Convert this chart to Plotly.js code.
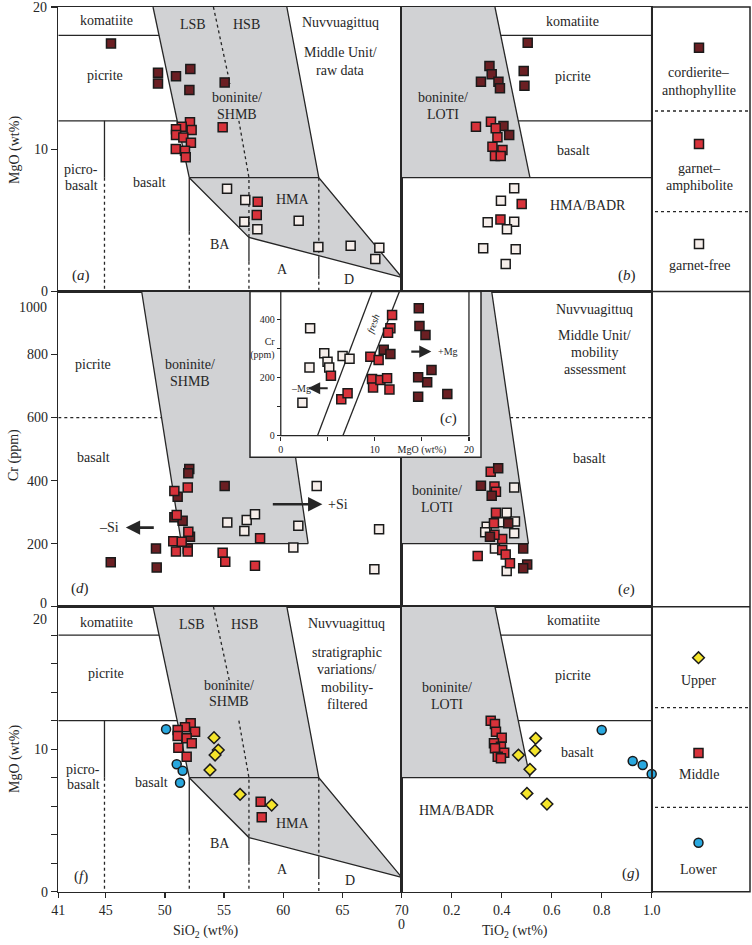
<!DOCTYPE html>
<html><head><meta charset="utf-8">
<script src="https://cdn.plot.ly/plotly-3.0.1.min.js"></script>
<style>html,body{margin:0;padding:0;background:#fff}#chart{width:752px;height:945px}</style>
</head><body><div id="chart"></div>
<script>
// ---------------- DATA ----------------
// Panel (a): SiO2 vs MgO, Middle Unit raw data
const aDarkSiO2  = [45.45, 49.42, 49.42, 50.94, 52.15, 52.07, 55.05];
const aDarkMgO   = [17.44, 15.38, 14.63, 15.14, 15.64, 14.16, 14.70];
const aRedSiO2   = [54.88, 52.12, 51.42, 50.94, 52.26, 50.94, 51.56, 52.20, 50.92, 51.70, 51.76, 57.84, 57.76];
const aRedMgO    = [11.54, 11.89, 11.58, 11.40, 11.35, 11.00, 10.83, 10.46, 10.01, 9.90, 9.43, 6.31, 5.38];
const aLightSiO2 = [55.25, 56.79, 56.71, 57.81, 61.30, 62.96, 65.69, 68.11, 67.77];
const aLightMgO  = [7.22, 6.43, 4.91, 4.37, 4.98, 3.13, 3.22, 3.08, 2.28];
// Panel (b): TiO2 vs MgO
const bDarkTiO2  = [0.504, 0.488, 0.491, 0.351, 0.360, 0.317, 0.387, 0.393, 0.407, 0.430];
const bDarkMgO   = [17.49, 15.50, 14.46, 15.85, 15.28, 14.74, 14.74, 14.28, 11.63, 11.00];
const bRedTiO2   = [0.297, 0.357, 0.376, 0.383, 0.363, 0.403, 0.373, 0.396, 0.480, 0.395];
const bRedMgO    = [11.58, 11.93, 11.47, 10.84, 10.18, 9.94, 9.52, 9.52, 6.15, 5.07];
const bLightTiO2 = [0.450, 0.397, 0.344, 0.450, 0.421, 0.326, 0.456, 0.416];
const bLightMgO  = [7.25, 6.38, 4.86, 4.90, 4.37, 3.04, 2.97, 1.93];
// Panel (c) inset: MgO vs Cr
const cLightMgO  = [3.12, 3.05, 2.30, 4.62, 4.97, 5.15, 6.57, 7.31];
const cLightCr   = [369, 234, 113, 283, 254, 234, 274, 264];
const cRedMgO    = [5.33, 6.43, 7.10, 9.52, 10.40, 11.83, 11.65, 11.40, 9.70, 9.81, 10.59, 11.30, 11.55];
const cRedCr     = [206, 125, 146, 271, 260, 415, 369, 354, 195, 166, 191, 197, 159];
const cDarkMgO   = [10.94, 11.65, 14.67, 14.74, 15.38, 16.02, 15.56, 14.60, 14.60, 17.70];
const cDarkCr    = [295, 281, 438, 377, 346, 226, 184, 201, 134, 143];
// Panel (d): SiO2 vs Cr
const dDarkSiO2  = [45.43, 49.25, 49.31, 52.06, 51.98, 51.08, 50.80, 51.50, 52.12, 51.93, 55.05];
const dDarkCr    = [141, 185, 124, 437, 423, 349, 284, 273, 222, 185, 383];
const dRedSiO2   = [50.80, 51.93, 51.00, 50.71, 51.42, 51.98, 50.94, 51.93, 54.88, 55.10, 58.04, 57.61];
const dRedCr     = [367, 378, 291, 208, 206, 238, 175, 175, 171, 143, 217, 130];
const dLightSiO2 = [55.27, 56.71, 56.91, 57.61, 61.27, 60.85, 62.82, 68.09, 67.69];
const dLightCr   = [267, 240, 275, 293, 257, 188, 383, 246, 119];
// Panel (e): TiO2 vs Cr
const eDarkTiO2  = [0.386, 0.317, 0.360, 0.426, 0.353, 0.486, 0.502, 0.486];
const eDarkCr    = [439, 384, 352, 265, 222, 185, 134, 122];
const eRedTiO2   = [0.356, 0.371, 0.377, 0.377, 0.369, 0.402, 0.371, 0.402, 0.416, 0.433, 0.304];
const eRedCr     = [428, 381, 365, 298, 265, 215, 228, 180, 166, 138, 161];
const eLightTiO2 = [0.450, 0.420, 0.453, 0.393, 0.340, 0.334, 0.450, 0.373, 0.420];
const eLightCr   = [378, 298, 270, 268, 254, 236, 233, 185, 113];
// Panel (f): SiO2 vs MgO, stratigraphic units
const fUpperSiO2  = [54.15, 54.51, 54.24, 53.81, 56.35, 59.02];
const fUpperMgO   = [10.81, 9.94, 9.59, 8.54, 6.83, 6.08];
const fMiddleSiO2 = [52.18, 51.70, 52.55, 51.08, 51.08, 51.84, 52.27, 51.14, 51.84, 58.09, 58.18];
const fMiddleMgO  = [11.82, 11.54, 11.23, 11.35, 10.93, 10.76, 10.41, 10.11, 9.47, 6.32, 5.22];
const fLowerSiO2  = [50.10, 51.00, 51.50, 51.28];
const fLowerMgO   = [11.40, 8.94, 8.49, 7.65];
// Panel (g): TiO2 vs MgO, stratigraphic units
const gUpperTiO2  = [0.536, 0.533, 0.467, 0.513, 0.501, 0.581];
const gUpperMgO   = [10.76, 9.90, 9.59, 8.59, 6.90, 6.15];
const gMiddleTiO2 = [0.356, 0.373, 0.377, 0.400, 0.369, 0.397, 0.373, 0.410, 0.384, 0.397];
const gMiddleMgO  = [12.00, 11.77, 11.23, 10.81, 10.41, 10.18, 10.06, 9.75, 9.47, 9.36];
const gLowerTiO2  = [0.800, 0.924, 0.964, 1.000];
const gLowerMgO   = [11.35, 9.17, 8.89, 8.26];

// Classification field boundaries
const sioGraySiO2 = [49.0, 60.3, 63.0, 70.0, 57.1, 52.06, 49.0];
const sioGrayMgO  = [20, 20, 8, 1, 3.8, 8, 20];
const sioSolid = [
  [[41, 49.51], [18, 18]], [[41, 51.04], [12, 12]], [[49.0, 52.06], [20, 8]],
  [[60.3, 63.0, 70.0], [20, 8, 1]], [[52.06, 63.0], [8, 8]], [[52.06, 57.1, 70.0], [8, 3.8, 1]],
  [[44.9, 44.9], [12, 8]], [[52.06, 52.06], [8, 4.2]], [[57.1, 57.1], [3.8, 2.1]], [[63.0, 63.0], [2.45, 1.1]]
];
const sioDotted = [
  [[44.9, 44.9], [8, 0]], [[52.06, 52.06], [4.2, 0]], [[57.1, 57.1], [2.1, 0]],
  [[63.0, 63.0], [8, 2.45]], [[63.0, 63.0], [1.1, 0]],
  [[54.1, 55.5], [20, 14.6]], [[56.25, 57.1, 57.1], [12.0, 8, 3.8]]
];
const tioGrayTiO2 = [0, 0.373, 0.513, 0, 0];
const tioGrayMgO  = [20, 20, 8, 8, 20];
const tioSolid = [[[0.373, 0.513], [20, 8]], [[0.396, 1.0], [18, 18]], [[0.466, 1.0], [12, 12]], [[0, 1.0], [8, 8]]];
const crSiGraySiO2 = [48.04, 59.0, 62.1, 51.4, 48.04];
const crSiGrayCr   = [1000, 1000, 200, 200, 1000];
const crSiSolid = [[[48.04, 51.4], [1000, 200]], [[59.0, 62.1], [1000, 200]], [[51.4, 62.1], [200, 200]]];
const crSiDashed = [[[41, 49.72], [600, 600]]];
const crTiGrayTiO2 = [0, 0.36, 0.507, 0, 0];
const crTiGrayCr   = [1000, 1000, 200, 200, 1000];
const crTiSolid = [[[0.36, 0.507], [1000, 200]], [[0, 0.507], [200, 200]]];
const crTiDashed = [[[0.4335, 1.0], [600, 600]]];
const freshLeftMgO = [3.9, 9.7], freshRightMgO = [6.6, 12.6], freshCr = [0, 495];

// ---------------- STYLE / LAYOUT ----------------
const W = 752, H = 945;
const px = v => v / W, py = v => 1 - v / H;
const FONT = '"Liberation Serif", "Times New Roman", serif';
const INK = '#262626';
const GRAY = '#d1d2d4';
const C_DARK = '#6b1f23', C_RED = '#d8323a', C_LIGHT = '#f6eeea', C_UP = '#f5e52b', C_LOW = '#29a8df';

const traces = [];
function fill(xa, ya, xs, ys) {
  traces.push({type:'scatter', mode:'lines', x:xs, y:ys, xaxis:xa, yaxis:ya, fill:'toself',
    fillcolor:GRAY, line:{width:0, color:GRAY}, hoverinfo:'skip', showlegend:false});
}
function seg(xa, ya, list, dash) {
  list.forEach(s => traces.push({type:'scatter', mode:'lines', x:s[0], y:s[1], xaxis:xa, yaxis:ya,
    line:{color:INK, width:1.3, dash:dash || 'solid'}, hoverinfo:'skip', showlegend:false}));
}
function pts(xa, ya, xs, ys, color, symbol, size) {
  traces.push({type:'scatter', mode:'markers', x:xs, y:ys, xaxis:xa, yaxis:ya, cliponaxis:false,
    marker:{symbol:symbol || 'square', size:size || 9, color:color, line:{color:'#1a1a1a', width:1.5}},
    showlegend:false});
}
const DOT = '3px,3px';

// (a)
fill('x','y', sioGraySiO2, sioGrayMgO);
seg('x','y', sioSolid); seg('x','y', sioDotted, DOT);
pts('x','y', aDarkSiO2, aDarkMgO, C_DARK);
pts('x','y', aRedSiO2, aRedMgO, C_RED);
pts('x','y', aLightSiO2, aLightMgO, C_LIGHT);
// (b)
fill('x2','y2', tioGrayTiO2, tioGrayMgO);
seg('x2','y2', tioSolid);
pts('x2','y2', bDarkTiO2, bDarkMgO, C_DARK);
pts('x2','y2', bRedTiO2, bRedMgO, C_RED);
pts('x2','y2', bLightTiO2, bLightMgO, C_LIGHT);
// (d)
fill('x3','y3', crSiGraySiO2, crSiGrayCr);
seg('x3','y3', crSiSolid); seg('x3','y3', crSiDashed, DOT);
pts('x3','y3', dDarkSiO2, dDarkCr, C_DARK);
pts('x3','y3', dRedSiO2, dRedCr, C_RED);
pts('x3','y3', dLightSiO2, dLightCr, C_LIGHT);
// (e)
fill('x4','y4', crTiGrayTiO2, crTiGrayCr);
seg('x4','y4', crTiSolid); seg('x4','y4', crTiDashed, DOT);
pts('x4','y4', eLightTiO2, eLightCr, C_LIGHT);
pts('x4','y4', eRedTiO2, eRedCr, C_RED);
pts('x4','y4', eDarkTiO2, eDarkCr, C_DARK);
// (f)
fill('x5','y5', sioGraySiO2, sioGrayMgO);
seg('x5','y5', sioSolid); seg('x5','y5', sioDotted, DOT);
pts('x5','y5', fLowerSiO2, fLowerMgO, C_LOW, 'circle');
pts('x5','y5', fMiddleSiO2, fMiddleMgO, C_RED);
pts('x5','y5', fUpperSiO2, fUpperMgO, C_UP, 'diamond');
// (g)
fill('x6','y6', tioGrayTiO2, tioGrayMgO);
seg('x6','y6', tioSolid);
pts('x6','y6', gMiddleTiO2, gMiddleMgO, C_RED);
pts('x6','y6', gUpperTiO2, gUpperMgO, C_UP, 'diamond');
pts('x6','y6', gLowerTiO2, gLowerMgO, C_LOW, 'circle');
// legend column (x7/y7 in pixel-like units)
pts('x7','y7', [699, 699, 699], [47.7, 144, 244], null);
traces[traces.length-1].marker.color = [C_DARK, C_RED, C_LIGHT];
pts('x7','y7', [698.5], [657.7], C_UP, 'diamond');
pts('x7','y7', [698.5], [753], C_RED);
pts('x7','y7', [698.5], [842.7], C_LOW, 'circle');
// inset (c)
seg('x8','y8', [[freshLeftMgO, freshCr], [freshRightMgO, freshCr]]);
pts('x8','y8', cLightMgO, cLightCr, C_LIGHT);
pts('x8','y8', cRedMgO, cRedCr, C_RED);
pts('x8','y8', cDarkMgO, cDarkCr, C_DARK);

const TF = {family:FONT, size:14, color:INK};
const base = {showgrid:false, zeroline:false, showline:true, mirror:true, linecolor:INK, linewidth:1.5,
  ticks:'', showticklabels:false, fixedrange:true, tickfont:TF};
const tickY = {ticks:'outside', ticklen:6, tickwidth:1.3, tickcolor:INK, showticklabels:true};
const tickX = {ticks:'outside', ticklen:5, tickwidth:1.3, tickcolor:INK, showticklabels:true};
const DX_SI = [px(58.3), px(401.7)], DX_TI = [px(401.7), px(651.7)], DX_LG = [px(651.7), px(750)];
const DY_T = [py(291.5), py(7)], DY_M = [py(606.7), py(291.5)], DY_B = [py(891.7), py(606.7)];

const layout = {
  width:W, height:H, margin:{l:0, r:0, t:0, b:0}, paper_bgcolor:'#fff', plot_bgcolor:'#fff',
  showlegend:false, font:{family:FONT, size:14, color:INK},
  xaxis:  {...base, domain:DX_SI, range:[41, 70], anchor:'y'},
  yaxis:  {...base, ...tickY, domain:DY_T, range:[0, 20], anchor:'x', tickvals:[0, 10, 20], ticktext:['0', '10', '']},
  xaxis2: {...base, domain:DX_TI, range:[0, 1], anchor:'y2'},
  yaxis2: {...base, domain:DY_T, range:[0, 20], anchor:'x2'},
  xaxis3: {...base, domain:DX_SI, range:[41, 70], anchor:'y3'},
  yaxis3: {...base, ...tickY, domain:DY_M, range:[0, 1000], anchor:'x3', tickvals:[0, 200, 400, 600, 800],
           ticktext:['', '200', '400', '600', '800']},
  xaxis4: {...base, domain:DX_TI, range:[0, 1], anchor:'y4'},
  yaxis4: {...base, domain:DY_M, range:[0, 1000], anchor:'x4'},
  xaxis5: {...base, ...tickX, domain:DX_SI, range:[41, 70], anchor:'y5', tickvals:[41, 45, 50, 55, 60, 65, 70]},
  yaxis5: {...base, ...tickY, domain:DY_B, range:[0, 20], anchor:'x5',
           tickvals:[0,2,4,6,8,10,12,14,16,18,20], ticktext:['0','','','','','10','','','','','']},
  xaxis6: {...base, ...tickX, domain:DX_TI, range:[0, 1], anchor:'y6',
           tickvals:[0, 0.2, 0.4, 0.6, 0.8, 1.0], ticktext:['', '0.2', '0.4', '0.6', '0.8', '1.0']},
  yaxis6: {...base, domain:DY_B, range:[0, 20], anchor:'x6'},
  xaxis7: {visible:false, domain:DX_LG, range:[651.7, 750], anchor:'y7', fixedrange:true},
  yaxis7: {visible:false, domain:[py(891.7), py(7)], range:[891.7, 7], anchor:'x7', fixedrange:true},
  xaxis8: {showgrid:false, zeroline:false, showline:false, fixedrange:true, domain:[px(250), px(481)],
           range:[-3.27, 21.28], anchor:'free', position:py(435.7), ticks:'outside', ticklen:4, tickwidth:1.1,
           tickcolor:INK, tickvals:[0, 5, 10, 15, 20], ticktext:['0', '', '10', 'MgO (wt%)', '20'],
           tickfont:{family:FONT, size:10, color:INK}},
  yaxis8: {showgrid:false, zeroline:false, showline:false, fixedrange:true, domain:[py(457.3), py(291.5)],
           range:[-74.2, 495.5], anchor:'free', position:px(280.7), ticks:'outside', ticklen:4, tickwidth:1.1,
           tickcolor:INK, tickvals:[0, 100, 200, 300, 400], ticktext:['0', '', '200', 'Cr<br>(ppm)', '400'],
           tickfont:{family:FONT, size:10, color:INK}},
  shapes:[], annotations:[]
};

// frames for legend column and inset
const S = layout.shapes;
S.push({type:'rect', xref:'paper', yref:'paper', x0:px(651.7), x1:px(750), y0:py(891.7), y1:py(7), line:{color:INK, width:1.5}, layer:'above'});
[291.5, 606.7].forEach(v => S.push({type:'line', xref:'paper', yref:'paper', x0:px(651.7), x1:px(750), y0:py(v), y1:py(v), line:{color:INK, width:1.5}}));
[111, 211.7, 707.7, 807.3].forEach(v => S.push({type:'line', xref:'paper', yref:'paper', x0:px(655), x1:px(748), y0:py(v), y1:py(v), line:{color:INK, width:1.3, dash:DOT}}));
S.push({type:'rect', xref:'paper', yref:'paper', x0:px(250), x1:px(481), y0:py(457.3), y1:py(291.5), line:{color:INK, width:1.5}, layer:'above'});
S.push({type:'path', xref:'x8', yref:'y8', path:'M0,495.5 L0,0 L20,0 L20,495.5', line:{color:INK, width:1.3}, layer:'above'});

// annotations
const A = layout.annotations;
function lab(xr, yr, x, y, text, extra) {
  A.push(Object.assign({xref:xr, yref:yr, x:x, y:y, text:text, showarrow:false, xanchor:'center', yanchor:'middle',
    font:{family:FONT, size:14, color:INK}}, extra || {}));
}
function arrow(xr, yr, x0, y0, x1, y1, w) {
  A.push({xref:xr, yref:yr, axref:xr, ayref:yr, ax:x0, ay:y0, x:x1, y:y1, text:' ', showarrow:true,
    arrowhead:2, arrowsize:1.1, arrowwidth:w, arrowcolor:INK});
}
const P = {family:FONT, size:15, color:INK};
// (a)
[['komatiite',45.03,19.03],['LSB',52.4,18.8],['HSB',56.9,18.8],['Nuvvuagittuq',64.79,18.9],['Middle Unit/',64.79,16.78],
 ['raw data',64.79,15.57],['picrite',44.94,15.21],['boninite/',56.07,13.62],['SHMB',56.07,12.45],['picro-',42.92,8.61],
 ['basalt',42.92,7.48],['basalt',48.66,7.67],['HMA',60.8,6.5],['BA',54.66,3.32],['A',59.95,1.56],['D',65.55,0.81]
].forEach(t => lab('x','y',t[1],t[2],t[0]));
lab('x','y',42.92,1.16,'(<i>a</i>)',{font:P});
// (b)
[['komatiite',0.684,19.0],['picrite',0.686,15.14],['boninite/',0.166,13.62],['LOTI',0.166,12.45],['basalt',0.689,9.9],['HMA/BADR',0.746,6.08]
].forEach(t => lab('x2','y2',t[1],t[2],t[0]));
lab('x2','y2',0.902,1.16,'(<i>b</i>)',{font:P});
// (d)
[['picrite',43.94,769],['basalt',43.94,473],['boninite/',52.12,769],['SHMB',52.12,714],['\u2013Si',45.28,251],['+Si',64.65,325]
].forEach(t => lab('x3','y3',t[1],t[2],t[0]));
lab('x3','y3',42.83,58,'(<i>d</i>)',{font:P});
arrow('x3','y3',49.36,251,46.7,251,2.6);
arrow('x3','y3',58.82,325,63.3,325,2.6);
// (e)
[['Nuvvuagittuq',0.773,944],['Middle Unit/',0.773,862],['mobility',0.773,806],['assessment',0.773,751],['basalt',0.75,469],
 ['boninite/',0.14,370],['LOTI',0.14,315]].forEach(t => lab('x4','y4',t[1],t[2],t[0]));
lab('x4','y4',0.9,53,'(<i>e</i>)',{font:P});
// (f)
[['komatiite',45.03,18.88],['LSB',52.27,18.74],['HSB',56.71,18.74],['Nuvvuagittuq',65.36,18.79],['stratigraphic',65.36,16.77],
 ['variations/',65.36,15.56],['mobility-',65.36,14.34],['filtered',65.36,13.15],['picrite',45.03,15.28],['boninite/',55.44,14.5],
 ['SHMB',55.44,13.33],['picro-',43.11,8.59],['basalt',43.11,7.49],['basalt',48.89,7.65],['HMA',60.8,4.8],['BA',54.66,3.4],
 ['A',59.95,1.57],['D',65.63,0.77]].forEach(t => lab('x5','y5',t[1],t[2],t[0]));
lab('x5','y5',42.92,1.1,'(<i>f</i>)',{font:P});
// (g)
[['komatiite',0.686,19.0],['picrite',0.686,15.2],['boninite/',0.18,14.34],['LOTI',0.18,13.17],['basalt',0.704,9.78],['HMA/BADR',0.22,5.68]
].forEach(t => lab('x6','y6',t[1],t[2],t[0]));
lab('x6','y6',0.917,1.29,'(<i>g</i>)',{font:P});
// inset (c)
const SF = {family:FONT, size:10, color:INK};
lab('x8','y8',9.81,386,'<i>fresh</i>',{font:SF, textangle:-69.5});
lab('x8','y8',2.1,163,'\u2013Mg',{font:SF});
lab('x8','y8',17.78,289,'+Mg',{font:SF});
lab('x8','y8',17.87,60,'(<i>c</i>)',{font:P});
arrow('x8','y8',5.36,163,2.9,163,2.2);
arrow('x8','y8',13.5,289,16.0,289,2.2);
// legend text
[['cordierite\u2013',699,72.7],['anthophyllite',699,90],['garnet\u2013',699,168],['amphibolite',699,185],['garnet-free',699,265.7],
 ['Upper',698.5,680.7],['Middle',698.5,774.7],['Lower',698.5,869]].forEach(t => lab('x7','y7',t[1],t[2],t[0]));
// shifted tick labels and axis titles
lab('paper','paper',px(49.5),py(7.5),'20',{xanchor:'right'});
lab('paper','paper',px(49.5),py(307.7),'1000',{xanchor:'right'});
lab('paper','paper',px(49.5),py(603.5),'0',{xanchor:'right', yshift:0, font:{family:FONT, size:14, color:INK}});
lab('paper','paper',px(49.5),py(619.5),'20',{xanchor:'right'});
lab('paper','paper',px(401.7),py(924),'0');
lab('paper','paper',px(15),py(150),'MgO (wt%)',{textangle:-90});
lab('paper','paper',px(14),py(455),'Cr (ppm)',{textangle:-90});
lab('paper','paper',px(15),py(759),'MgO (wt%)',{textangle:-90});
lab('paper','paper',px(206),py(931.7),'SiO<sub>2</sub> (wt%)');
lab('paper','paper',px(515),py(931.7),'TiO<sub>2</sub> (wt%)');

Plotly.newPlot('chart', traces, layout, {staticPlot:true});
</script></body></html>
